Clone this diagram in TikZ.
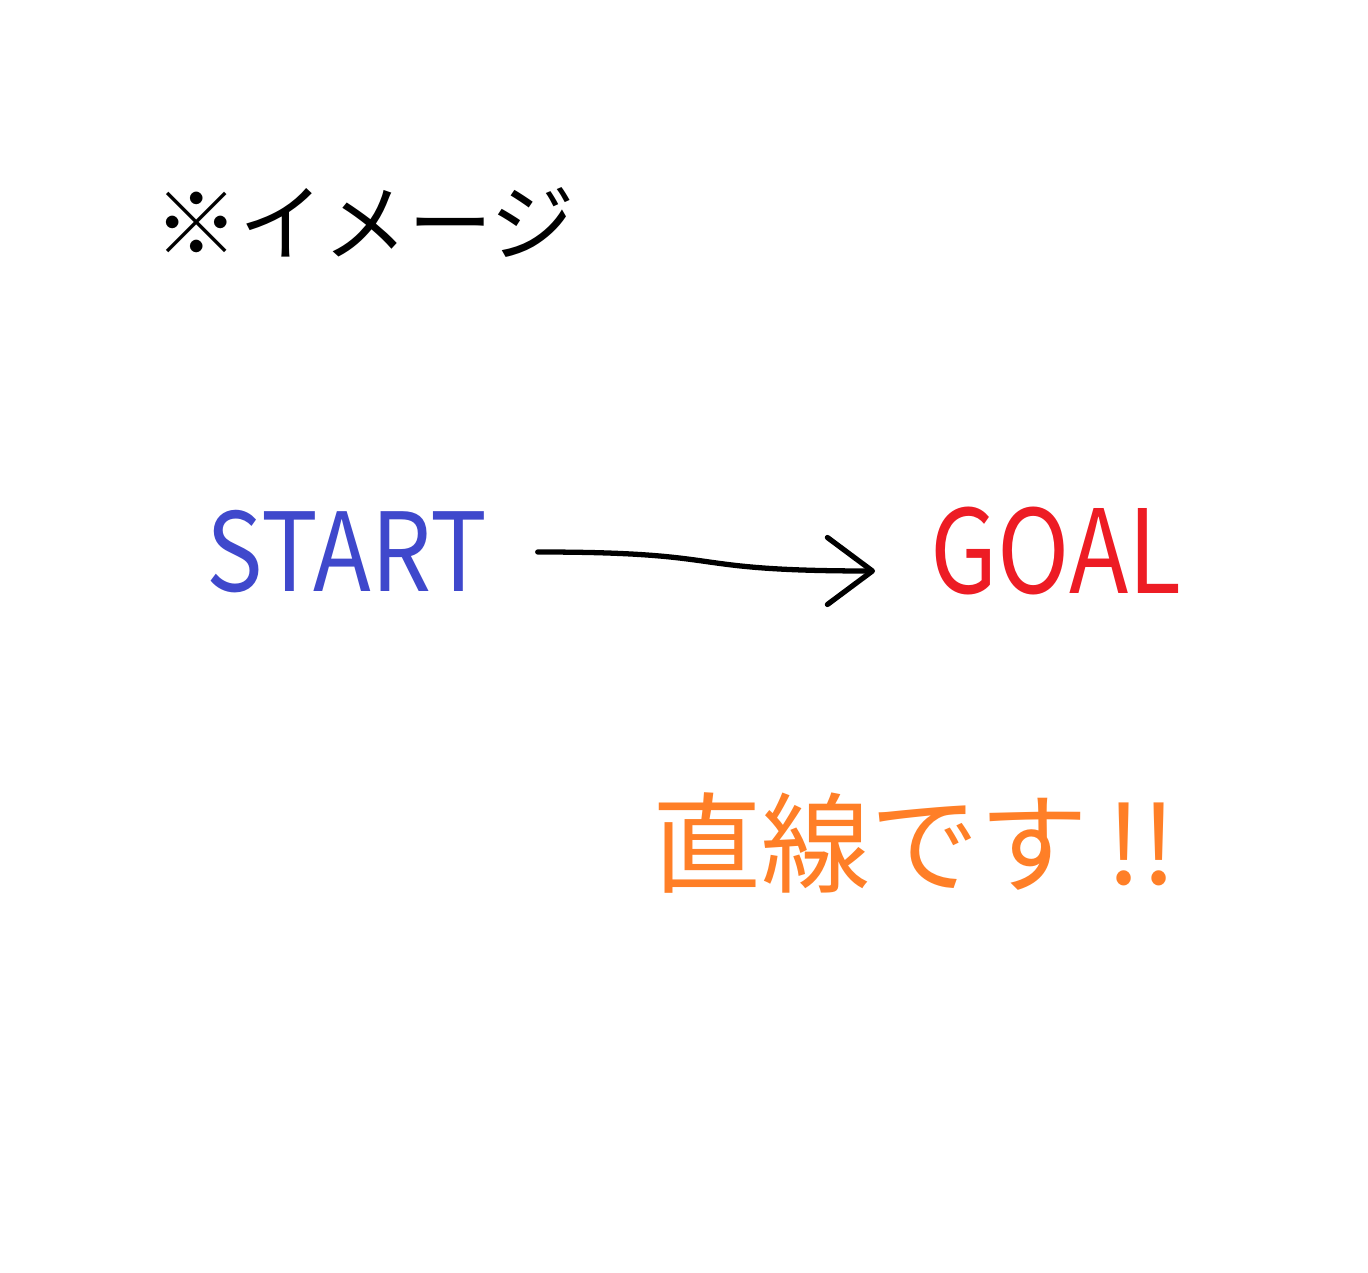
\documentclass[tikz,border=0pt]{standalone}
\usepackage{fontspec}
\usepackage{graphicx}
\setmainfont{Noto Sans CJK JP}
\usetikzlibrary{arrows.meta}
\definecolor{pindigo}{HTML}{3F48CC}
\definecolor{pred}{HTML}{ED1C24}
\definecolor{porange}{HTML}{FF7F27}
\begin{document}
\begin{tikzpicture}[
    word/.style={inner sep=0pt},
    flow/.style={line width=1.5pt,line cap=round,
        -{Straight Barb[length=4.5mm,width=6.7mm,line width=1.5pt,round]}}
    ]
        \useasboundingbox[fill=white] (0,0) rectangle (13.68,12.72);

        \node[word,font=\fontsize{24}{28}\selectfont] (title) at (3.65,10.50) {※イメージ};

        \node[word,text=pindigo,font=\fontsize{31}{36}\selectfont] (start) at (3.47,7.20) {\scalebox{0.87}[1]{START}};
        \node[word,text=pred,font=\fontsize{33}{38}\selectfont] (goal) at (10.56,7.21) {\scalebox{0.84}[1]{GOAL}};

        \draw[flow] ([xshift=0.5cm]start.east) .. controls +(2,0) and +(-2,0) .. ([shift={(-0.55,-0.2)}]goal.west);

        \node[word,text=porange,font=\fontsize{31}{36}\selectfont] (note) at (9.15,4.29) {直線です\,!!};
    \end{tikzpicture}
\end{document}
